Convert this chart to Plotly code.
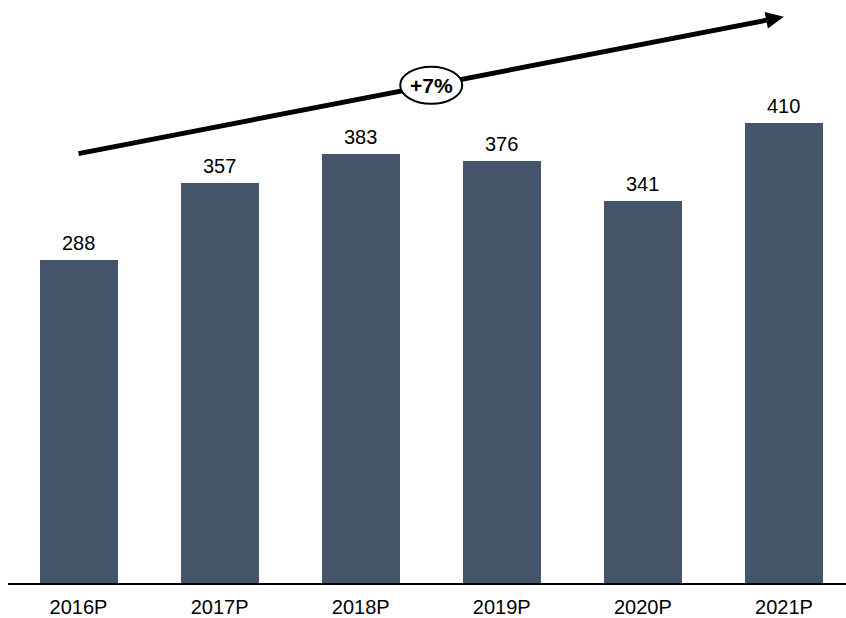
import math
import plotly.graph_objects as go

# Revenue by year (projected)
years = ["2016P", "2017P", "2018P", "2019P", "2020P", "2021P"]
values = [288, 357, 383, 376, 341, 410]

# Growth arrow endpoints (category index, value) and label
arrow_start = (0, 383)
arrow_end = (5, 505)
growth_label = "+7%"

BAR_COLOR = "#44546A"
FONT = "Arial, Liberation Sans, sans-serif"

# Figure geometry
W, H = 846, 618
M_L, M_R, M_T, M_B = 8, 0, 0, 31
X_RANGE = [-0.5, 5.44]
Y_RANGE = [0, 520]
px_per_x = (W - M_L - M_R) / (X_RANGE[1] - X_RANGE[0])
px_per_y = (H - M_T - M_B) / (Y_RANGE[1] - Y_RANGE[0])

fig = go.Figure()
fig.add_trace(go.Bar(
    x=list(range(len(years))),
    y=values,
    marker=dict(color=BAR_COLOR, line=dict(width=0)),
    width=0.553,
    hoverinfo="skip",
))

# Value labels above each bar
for i, v in enumerate(values):
    fig.add_annotation(
        x=i, y=v, text=str(v), showarrow=False,
        yanchor="bottom", yshift=4,
        font=dict(family=FONT, size=20, color="black"),
    )

# Growth arrow: shaft + triangular head, sized in pixels
dxp = (arrow_end[0] - arrow_start[0]) * px_per_x
dyp = (arrow_end[1] - arrow_start[1]) * px_per_y
length = math.hypot(dxp, dyp)
ux, uy = dxp / length, dyp / length
head_len, head_half = 18, 8.5

def to_data(px, py):
    return arrow_end[0] + px / px_per_x, arrow_end[1] + py / px_per_y

shaft_end = to_data(-(head_len - 2) * ux, -(head_len - 2) * uy)
left = to_data(-head_len * ux - head_half * uy, -head_len * uy + head_half * ux)
right = to_data(-head_len * ux + head_half * uy, -head_len * uy - head_half * ux)

fig.add_shape(
    type="line", xref="x", yref="y",
    x0=arrow_start[0], y0=arrow_start[1], x1=shaft_end[0], y1=shaft_end[1],
    line=dict(color="black", width=5), layer="above",
)
fig.add_shape(
    type="path", xref="x", yref="y",
    path=f"M{arrow_end[0]},{arrow_end[1]} L{left[0]},{left[1]} L{right[0]},{right[1]} Z",
    fillcolor="black", line=dict(color="black", width=0), layer="above",
)

# Growth label in an ellipse at the arrow's midpoint
mx = (arrow_start[0] + arrow_end[0]) / 2
my = (arrow_start[1] + arrow_end[1]) / 2
fig.add_shape(
    type="circle", xref="x", yref="y",
    xsizemode="pixel", ysizemode="pixel",
    xanchor=mx, yanchor=my,
    x0=-31, x1=31, y0=-18.5, y1=18.5,
    fillcolor="white", line=dict(color="black", width=2),
    layer="above",
)
fig.add_annotation(
    x=mx, y=my, text="<b>" + growth_label + "</b>", showarrow=False,
    font=dict(family=FONT, size=21, color="black"),
)

fig.update_layout(
    width=W, height=H,
    margin=dict(l=M_L, r=M_R, t=M_T, b=M_B),
    paper_bgcolor="white", plot_bgcolor="white",
    showlegend=False,
    bargap=0,
    xaxis=dict(
        range=X_RANGE,
        tickmode="array",
        tickvals=list(range(len(years))),
        ticktext=years,
        showline=True, linecolor="black", linewidth=2,
        showgrid=False, zeroline=False, ticks="",
        ticklabelstandoff=5,
        tickfont=dict(family=FONT, size=20, color="black"),
        fixedrange=True,
    ),
    yaxis=dict(
        range=Y_RANGE,
        visible=False, showgrid=False, zeroline=False,
        fixedrange=True,
    ),
)

fig.write_html("out.html", config={"displayModeBar": False})
